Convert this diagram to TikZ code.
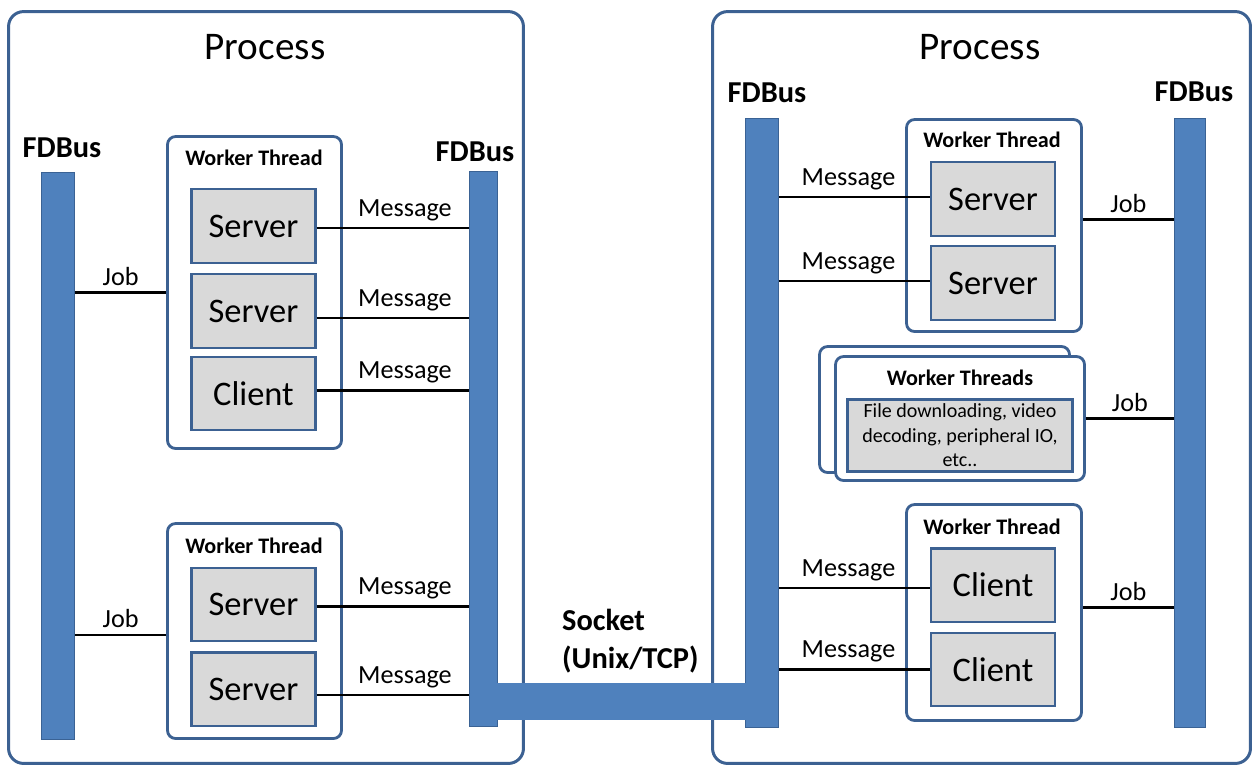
\documentclass[tikz,border=0pt]{standalone}
\usepackage{fontspec}
\setmainfont{Carlito}
\usetikzlibrary{calc,positioning}

\definecolor{busblue}{RGB}{79,129,189}
\definecolor{busedge}{RGB}{58,98,148}
\definecolor{boxedge}{RGB}{60,97,146}
\definecolor{unitgray}{RGB}{217,217,217}

\begin{document}
\begin{tikzpicture}[x=0.02cm, y=-0.02cm,
    proc/.style={draw=boxedge, line width=1.7pt, rounded corners=0.3cm},
    bus/.style={draw=busedge, fill=busblue, line width=0.8pt, inner sep=0pt},
    worker/.style={draw=boxedge, fill=white, line width=1.6pt, rounded corners=0.16cm, inner sep=0pt},
    unitbox/.style={draw=boxedge, fill=unitgray, line width=1.4pt, minimum width=2.48cm, minimum height=1.47cm, inner sep=0pt, font=\fontsize{19.6}{23}\selectfont},
    conn/.style={line width=1.3pt},
    lbl/.style={above, inner sep=3.5pt, font=\fontsize{14.9}{18}\selectfont},
    proctitle/.style={font=\fontsize{22.3}{26}\selectfont},
    busname/.style={font=\bfseries\fontsize{17.3}{21.5}\selectfont},
    wtitle/.style={font=\bfseries\fontsize{12.6}{15}\selectfont}]

\useasboundingbox (0,0) rectangle (1260,772);

% the two processes
\node[proc, minimum width=10.3cm, minimum height=15.04cm] (procL) at (266,387.5) {};
\node[proc, minimum width=10.76cm, minimum height=15.04cm] (procR) at (981.5,387.5) {};
\node[proctitle] (procLtitle) at (265,47) {Process};
\node[proctitle] (procRtitle) at (980,47) {Process};

% FDBus bars
\node[bus, minimum width=0.66cm, minimum height=11.34cm] (busA) at (58,456) {};
\node[bus, minimum width=0.56cm, minimum height=11.1cm] (busB) at (483.5,449) {};
\node[bus, minimum width=0.66cm, minimum height=12.18cm] (busC) at (762,423) {};
\node[bus, minimum width=0.62cm, minimum height=12.18cm] (busD) at (1190,423) {};
\node[busname] (busAname) at (62,148) {FDBus};
\node[busname] (busBname) at (475,152) {FDBus};
\node[busname] (busCname) at (767,93) {FDBus};
\node[busname] (busDname) at (1194,92) {FDBus};

% socket between the two buses
\fill[busblue] ($(busB.east |- 0,683)+(-1.5,0)$) rectangle ($(busC.west |- 0,720)+(1.5,0)$);
\node[busname, anchor=west, align=left] (sock) at (556,641) {Socket\\(Unix/TCP)};

% worker threads, left process
\node[worker, minimum width=3.48cm, minimum height=6.24cm] (wL1) at (254.5,292.5) {};
\node[worker, minimum width=3.48cm, minimum height=4.3cm] (wL2) at (254.5,631) {};
\node[wtitle] (tL1) at (254,158) {Worker Thread};
\node[wtitle] (tL2) at (254,546) {Worker Thread};
\node[unitbox] (sL1) at (253.5,226) {Server};
\node[unitbox] (sL2) at (253.5,311) {Server};
\node[unitbox] (cL3) at (253.5,393.5) {Client};
\node[unitbox] (sL4) at (253.5,604.5) {Server};
\node[unitbox] (sL5) at (253.5,689) {Server};

% worker threads, right process
\node[worker, minimum width=3.5cm, minimum height=4.24cm] (wR1) at (994,225.5) {};
\node[worker, minimum width=3.5cm, minimum height=4.32cm] (wR2) at (994,612.5) {};
\node[wtitle] (tR1) at (992,140) {Worker Thread};
\node[wtitle] (tR2) at (992,527) {Worker Thread};
\node[unitbox] (sR1) at (993,199) {Server};
\node[unitbox] (sR2) at (993,283) {Server};
\node[unitbox] (cR3) at (993,585) {Client};
\node[unitbox] (cR4) at (993,669.5) {Client};

% stacked worker threads
\node[worker, minimum width=5.0cm, minimum height=2.52cm] (thrB) at (944.5,409.5) {};
\node[worker, minimum width=4.98cm, minimum height=2.48cm] (thrF) at (960,418.5) {};
\node[wtitle] (tThr) at (960,378) {Worker Threads};
\node[unitbox, minimum width=4.5cm, minimum height=1.44cm, align=center,
      font=\fontsize{11.4}{13.9}\selectfont] (jobs) at (960,435.5) {File downloading, video\\decoding, peripheral IO,\\etc..};

% jobs
\coordinate (jL2) at ($(wL2.west)+(0,4)$);
\coordinate (jR1) at ($(wR1.east)+(0,-6)$);
\coordinate (jR2) at ($(wR2.east)+(0,-5)$);
\draw[conn] (busA.east |- wL1.west) -- (wL1.west) node[lbl, midway] {Job};
\draw[conn] (busA.east |- jL2) -- (jL2) node[lbl, midway] {Job};
\draw[conn] (jR1) -- (jR1 -| busD.west) node[lbl, midway] {Job};
\draw[conn] (thrF.east) -- (thrF.east -| busD.west) node[lbl, midway] {Job};
\draw[conn] (jR2) -- (jR2 -| busD.west) node[lbl, midway] {Job};

% messages
\foreach \u/\dy in {sL1/2, sL2/7, cL3/-3, sL4/2, sL5/6} {
    \coordinate (m) at ($(\u.east)+(0,\dy)$);
    \draw[conn] (m) -- (m -| busB.west) node[lbl, pos=.58] {Message};
}
\foreach \u/\dy in {sR1/-2, sR2/-2, cR3/3, cR4/0} {
    \coordinate (m) at ($(\u.west)+(0,\dy)$);
    \draw[conn] (m) -- (m -| busC.east) node[lbl, pos=.54] {Message};
}

\end{tikzpicture}
\end{document}
